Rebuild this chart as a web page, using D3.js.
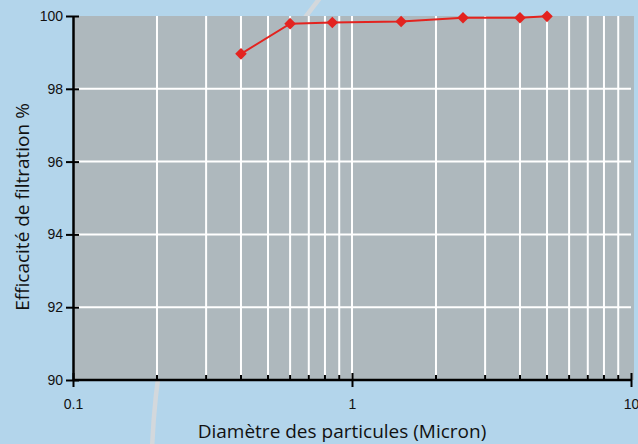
<!DOCTYPE html>
<html>
<head>
<meta charset="utf-8">
<script src="https://cdn.jsdelivr.net/npm/d3@7"></script>
<style>
  body { margin: 0; background: #b3d5eb; }
  svg { display: block; font-family: "Open Sans", "Noto Sans", sans-serif; }
</style>
</head>
<body>
<div id="chart"></div>
<script>
// data
var diameters = [0.4, 0.6, 0.85, 1.5, 2.5, 4, 5]
var efficiency = [98.96, 99.79, 99.82, 99.85, 99.95, 99.95, 99.99]
var x_ticks = [0.1, 1, 10]
var x_tick_labels = ['0.1', '1', '10']
var y_ticks = [90, 92, 94, 96, 98, 100]

var width = 638, height = 444
var plot_left = 73, plot_right = 631, plot_top = 16, plot_bottom = 380

var svg = d3.select('#chart')
    .append('svg')
    .attr('width', width)
    .attr('height', height)

svg.append('rect')
    .attr('width', width)
    .attr('height', height)
    .attr('fill', '#b3d5eb')

// decorative arc behind the plot
svg.append('path')
    .attr('d', 'M320,-2 A770,770 0 0,0 152,450')
    .attr('fill', 'none')
    .attr('stroke', '#d3d8dc')
    .attr('stroke-width', 4.5)

var x = d3.scaleLog().domain([0.1, 10]).range([plot_left, plot_right])
var y = d3.scaleLinear().domain([90, 100]).range([plot_bottom, plot_top])

svg.append('rect')
    .attr('x', plot_left)
    .attr('y', plot_top)
    .attr('width', plot_right - plot_left + 3)
    .attr('height', plot_bottom - plot_top)
    .attr('fill', '#aeb8bd')

// minor decades for the grid
var minor = []
for (var d = 0.1; d < 10; d *= 10) {
    for (var k = 2; k <= 9; k++) minor.push(+(d * k).toFixed(2))
}
minor.push(1)

svg.selectAll('.vgrid')
    .data(minor)
    .enter()
    .append('line')
    .attr('x1', d => x(d))
    .attr('x2', d => x(d))
    .attr('y1', plot_top)
    .attr('y2', plot_bottom)
    .attr('stroke', 'white')
    .attr('stroke-width', 2)

svg.selectAll('.hgrid')
    .data(y_ticks.filter(v => v > 90 && v < 100))
    .enter()
    .append('line')
    .attr('x1', plot_left)
    .attr('x2', plot_right)
    .attr('y1', d => y(d))
    .attr('y2', d => y(d))
    .attr('stroke', 'white')
    .attr('stroke-width', 2)

// small inside ticks on x axis
svg.selectAll('.mtick')
    .data(minor.filter(v => v != 1))
    .enter()
    .append('line')
    .attr('x1', d => x(d))
    .attr('x2', d => x(d))
    .attr('y1', plot_bottom - 5)
    .attr('y2', plot_bottom)
    .attr('stroke', 'black')
    .attr('stroke-width', 2)

// axes
var yAxis = d3.axisLeft(y).tickValues(y_ticks).tickSizeInner(7).tickSizeOuter(0).tickPadding(3)
var gy = svg.append('g').attr('transform', `translate(${plot_left},0)`).call(yAxis)
gy.select('.domain').attr('stroke-width', 2.5)
gy.selectAll('.tick line').attr('x2', 6).attr('x1', -7).attr('stroke-width', 2)
gy.selectAll('text').attr('font-size', 14).attr('fill', '#111')

var xAxis = d3.axisBottom(x).tickValues(x_ticks).tickFormat((d, i) => x_tick_labels[i])
    .tickSizeInner(7).tickSizeOuter(0).tickPadding(12)
var gx = svg.append('g').attr('transform', `translate(0,${plot_bottom})`).call(xAxis)
gx.select('.domain').attr('stroke-width', 2.5).attr('d', `M${plot_left},0H${plot_right}`)
gx.selectAll('.tick line').attr('y1', -7).attr('y2', 7).attr('stroke-width', 2)
gx.selectAll('text').attr('font-size', 14).attr('fill', '#111')

// series
var pts = diameters.map((d, i) => [d, efficiency[i]])
svg.append('path')
    .datum(pts)
    .attr('fill', 'none')
    .attr('stroke', '#e3231f')
    .attr('stroke-width', 2)
    .attr('d', d3.line().x(d => x(d[0])).y(d => y(d[1])))

svg.selectAll('.pt')
    .data(pts)
    .enter()
    .append('path')
    .attr('transform', d => `translate(${x(d[0])},${y(d[1])})`)
    .attr('d', d3.symbol(d3.symbolDiamond2, 85))
    .attr('fill', '#e3231f')

// titles
svg.append('text')
    .attr('transform', 'translate(29,207) rotate(-90)')
    .attr('text-anchor', 'middle')
    .attr('font-size', 19)
    .attr('fill', '#111')
    .text('Efficacité de filtration %')

svg.append('text')
    .attr('x', 342)
    .attr('y', 438)
    .attr('text-anchor', 'middle')
    .attr('font-size', 19)
    .attr('fill', '#111')
    .text('Diamètre des particules (Micron)')
</script>
</body>
</html>
